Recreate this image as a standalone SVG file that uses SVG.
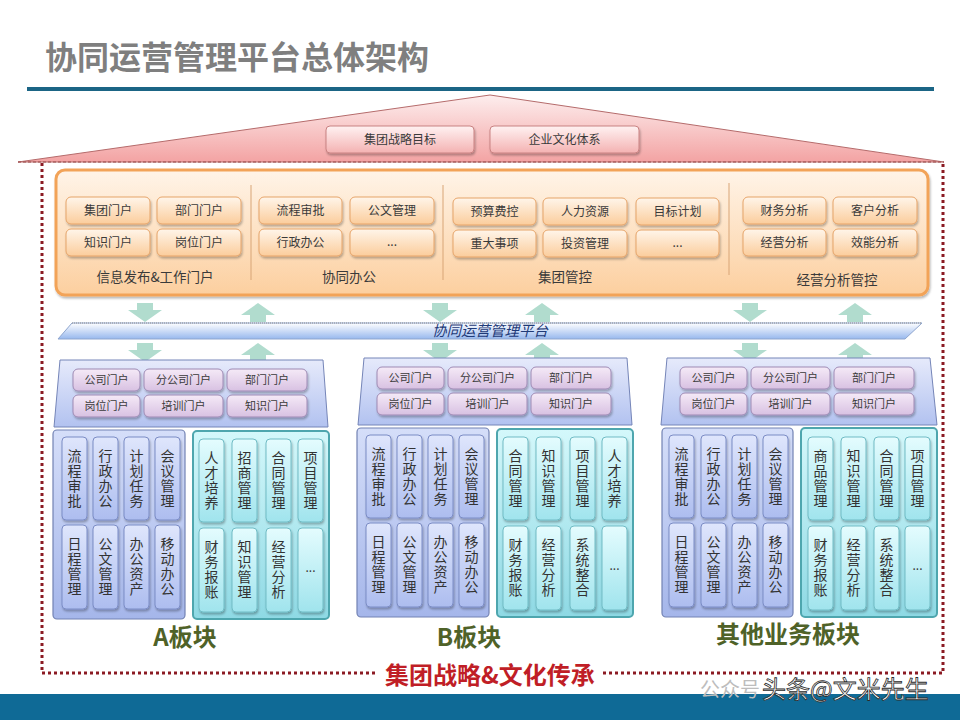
<svg xmlns="http://www.w3.org/2000/svg" width="960" height="720" viewBox="0 0 960 720">
<defs>
<linearGradient id="gRoof" x1="0" y1="0" x2="0" y2="1"><stop offset="0" stop-color="#fdeeee"/><stop offset="1" stop-color="#f3a3a3"/></linearGradient>
<linearGradient id="gPink" x1="0" y1="0" x2="0" y2="1"><stop offset="0" stop-color="#fff2f2"/><stop offset="1" stop-color="#f4b2b2"/></linearGradient>
<linearGradient id="gOrBox" x1="0" y1="0" x2="0" y2="1"><stop offset="0" stop-color="#fff4e8"/><stop offset="1" stop-color="#fccf9f"/></linearGradient>
<linearGradient id="gOrBtn" x1="0" y1="0" x2="0" y2="1"><stop offset="0" stop-color="#fff5ea"/><stop offset="1" stop-color="#fbcd9c"/></linearGradient>
<linearGradient id="gPlat" x1="0" y1="0" x2="0" y2="1"><stop offset="0" stop-color="#ffffff"/><stop offset="1" stop-color="#97b8ee"/></linearGradient>
<linearGradient id="gTrap" x1="0" y1="0" x2="0" y2="1"><stop offset="0" stop-color="#e6eafb"/><stop offset="1" stop-color="#b2c2f0"/></linearGradient>
<linearGradient id="gLav" x1="0" y1="0" x2="0" y2="1"><stop offset="0" stop-color="#f5eaf7"/><stop offset="1" stop-color="#d8c1e2"/></linearGradient>
<linearGradient id="gBP" x1="0" y1="0" x2="0" y2="1"><stop offset="0" stop-color="#d5def9"/><stop offset="1" stop-color="#a5b6ea"/></linearGradient>
<linearGradient id="gBT" x1="0" y1="0" x2="0" y2="1"><stop offset="0" stop-color="#dfe6fc"/><stop offset="1" stop-color="#adbdef"/></linearGradient>
<linearGradient id="gTP" x1="0" y1="0" x2="0" y2="1"><stop offset="0" stop-color="#d4f8fb"/><stop offset="1" stop-color="#8ed9e4"/></linearGradient>
<linearGradient id="gTT" x1="0" y1="0" x2="0" y2="1"><stop offset="0" stop-color="#e4fcfe"/><stop offset="1" stop-color="#a0e4ed"/></linearGradient>
<filter id="sh" x="-20%" y="-20%" width="140%" height="150%"><feDropShadow dx="1" dy="2" stdDeviation="1.2" flood-color="#000" flood-opacity="0.28"/></filter>
<style>
text{font-family:"Noto Sans CJK SC","Noto Sans",sans-serif;}
.title{font-size:32px;font-weight:bold;fill:#7f7f7f;}
.pb{fill:url(#gPink);stroke:#c98282;stroke-width:1;filter:url(#sh);}
.ob{fill:url(#gOrBtn);stroke:#e6a469;stroke-width:1;filter:url(#sh);}
.t12{font-size:12px;fill:#3a3a3a;text-anchor:middle;}
.t11{font-size:11px;fill:#3a3a3a;text-anchor:middle;}
.lab{font-size:13.5px;fill:#3a3a3a;text-anchor:middle;}
.trap{fill:url(#gTrap);stroke:#7585b8;stroke-width:1;}
.lb{fill:url(#gLav);stroke:#9e8ab4;stroke-width:1;filter:url(#sh);}
.bp{fill:url(#gBP);stroke:#7282b3;stroke-width:1.2;}
.bt{fill:url(#gBT);stroke:#7b8cc5;stroke-width:1;filter:url(#sh);}
.tp{fill:url(#gTP);stroke:#4ea6ae;stroke-width:2;}
.tt{fill:url(#gTT);stroke:#70bcc5;stroke-width:1;filter:url(#sh);}
.vt{font-size:14px;fill:#333;text-anchor:middle;writing-mode:vertical-rl;letter-spacing:1px;}
.blk{font-size:24px;font-weight:bold;fill:#4f6228;text-anchor:middle;}
.arr{fill:#a9d9c9;opacity:0.9;}
</style>
</defs>
<rect width="960" height="720" fill="#ffffff"/>
<text class="title" x="45" y="69">协同运营管理平台总体架构</text>
<rect x="27" y="87" width="907" height="4" fill="#1b6585"/>

<!-- roof -->
<g id="roof">
<polygon points="18,162 490,95 944,162" fill="url(#gRoof)" stroke="#b56b6b" stroke-width="1"/>
<line x1="18" y1="162" x2="944" y2="162" stroke="#9a4a4a" stroke-width="1" stroke-dasharray="3 2"/>
</g>
<g id="n-strategy"><rect class="pb" x="326" y="126" width="148" height="27" rx="4"/><text class="t12" x="400" y="144">集团战略目标</text></g>
<g id="n-culture"><rect class="pb" x="490" y="126" width="149" height="27" rx="4"/><text class="t12" x="564.5" y="144">企业文化体系</text></g>

<!-- dotted frame -->
<g id="frame" fill="none" stroke="#8b1a23" stroke-width="3" stroke-dasharray="3 3">
<path d="M42,163 V673 H378"/>
<path d="M603,673 H943 V163"/>
</g>
<text x="490" y="684" font-size="24" font-weight="bold" fill="#c01e26" text-anchor="middle">集团战略&amp;文化传承</text>

<!-- orange application layer -->
<g id="app-layer">
<rect x="56" y="170" width="872" height="125" rx="9" fill="url(#gOrBox)" stroke="#f2a358" stroke-width="3" filter="url(#sh)"/>
<g stroke="#d8a577" stroke-width="1"><line x1="251" y1="185" x2="251" y2="280"/><line x1="443" y1="185" x2="443" y2="280"/><line x1="729" y1="183" x2="729" y2="275"/></g>
</g>
<g id="n-jtmh"><rect class="ob" x="66" y="197" width="84" height="27" rx="5"/><text class="t12" x="108" y="215">集团门户</text></g>
<g id="n-bmmh"><rect class="ob" x="157" y="197" width="84" height="27" rx="5"/><text class="t12" x="199" y="215">部门门户</text></g>
<g id="n-zsmh"><rect class="ob" x="66" y="229" width="84" height="27" rx="5"/><text class="t12" x="108" y="247">知识门户</text></g>
<g id="n-gwmh"><rect class="ob" x="157" y="229" width="84" height="27" rx="5"/><text class="t12" x="199" y="247">岗位门户</text></g>
<text class="lab" x="155" y="282">信息发布&amp;工作门户</text>
<g id="n-lcsp"><rect class="ob" x="259" y="197" width="83" height="27" rx="5"/><text class="t12" x="300.5" y="215">流程审批</text></g>
<g id="n-gwgl"><rect class="ob" x="350" y="197" width="84" height="27" rx="5"/><text class="t12" x="392" y="215">公文管理</text></g>
<g id="n-xzbg"><rect class="ob" x="259" y="229" width="83" height="27" rx="5"/><text class="t12" x="300.5" y="247">行政办公</text></g>
<g id="n-more1"><rect class="ob" x="350" y="229" width="84" height="27" rx="5"/><text class="t12" x="392" y="246">...</text></g>
<text class="lab" x="349" y="282">协同办公</text>
<g id="n-ysfk"><rect class="ob" x="453" y="198" width="83" height="27" rx="5"/><text class="t12" x="494.5" y="216">预算费控</text></g>
<g id="n-rlzy"><rect class="ob" x="543" y="198" width="84" height="27" rx="5"/><text class="t12" x="585" y="216">人力资源</text></g>
<g id="n-mbjh"><rect class="ob" x="636" y="198" width="83" height="27" rx="5"/><text class="t12" x="677.5" y="216">目标计划</text></g>
<g id="n-zdsx"><rect class="ob" x="453" y="230" width="83" height="27" rx="5"/><text class="t12" x="494.5" y="248">重大事项</text></g>
<g id="n-tzgl"><rect class="ob" x="543" y="230" width="84" height="27" rx="5"/><text class="t12" x="585" y="248">投资管理</text></g>
<g id="n-more2"><rect class="ob" x="636" y="230" width="83" height="27" rx="5"/><text class="t12" x="677.5" y="247">...</text></g>
<text class="lab" x="565" y="282">集团管控</text>
<g id="n-cwfx"><rect class="ob" x="743" y="197" width="83" height="27" rx="5"/><text class="t12" x="784.5" y="215">财务分析</text></g>
<g id="n-khfx"><rect class="ob" x="833" y="197" width="84" height="27" rx="5"/><text class="t12" x="875" y="215">客户分析</text></g>
<g id="n-jyfx"><rect class="ob" x="743" y="229" width="83" height="27" rx="5"/><text class="t12" x="784.5" y="247">经营分析</text></g>
<g id="n-xnfx"><rect class="ob" x="833" y="229" width="84" height="27" rx="5"/><text class="t12" x="875" y="247">效能分析</text></g>
<text class="lab" x="837" y="285">经营分析管控</text>

<!-- platform band -->
<g id="platform">
<polygon points="72,323 922,323 905,339 58,339" fill="url(#gPlat)" stroke="#8fa6cf" stroke-width="1"/>
<line x1="72" y1="323" x2="922" y2="323" stroke="#8d8d8d" stroke-width="1" stroke-dasharray="1 1"/>
<text x="490" y="336" font-size="14.5" font-style="italic" fill="#1f3a78" text-anchor="middle">协同运营管理平台</text>
</g>

<!-- connectors -->
<g id="connectors" class="arr">
<polygon points="137,303 153,303 153,310 162,310 145,322 128,310 137,310"/>
<polygon points="432,303 448,303 448,310 457,310 440,322 423,310 432,310"/>
<polygon points="742,303 758,303 758,310 767,310 750,322 733,310 742,310"/>
<polygon points="258,303 275,315 266,315 266,322 250,322 250,315 241,315"/>
<polygon points="542,303 559,315 550,315 550,322 534,322 534,315 525,315"/>
<polygon points="855,303 872,315 863,315 863,322 847,322 847,315 838,315"/>
<polygon points="137,343 153,343 153,350 162,350 145,362 128,350 137,350"/>
<polygon points="432,343 448,343 448,350 457,350 440,362 423,350 432,350"/>
<polygon points="742,343 758,343 758,350 767,350 750,362 733,350 742,350"/>
<polygon points="258,343 275,355 266,355 266,362 250,362 250,355 241,355"/>
<polygon points="542,343 559,355 550,355 550,362 534,362 534,355 525,355"/>
<polygon points="855,343 872,355 863,355 863,362 847,362 847,355 838,355"/>
</g>

<!-- Block A -->
<g id="block-a">
<polygon class="trap" points="60,360 323,360 328,427 54,427"/>
<g id="a-p1"><rect class="lb" x="73" y="369" width="67" height="22" rx="5"/><text class="t11" x="106.5" y="384">公司门户</text></g>
<g id="a-p2"><rect class="lb" x="144" y="369" width="79" height="22" rx="5"/><text class="t11" x="183.5" y="384">分公司门户</text></g>
<g id="a-p3"><rect class="lb" x="227" y="369" width="80" height="22" rx="5"/><text class="t11" x="267" y="384">部门门户</text></g>
<g id="a-p4"><rect class="lb" x="73" y="395" width="67" height="22" rx="5"/><text class="t11" x="106.5" y="410">岗位门户</text></g>
<g id="a-p5"><rect class="lb" x="144" y="395" width="79" height="22" rx="5"/><text class="t11" x="183.5" y="410">培训门户</text></g>
<g id="a-p6"><rect class="lb" x="227" y="395" width="80" height="22" rx="5"/><text class="t11" x="267" y="410">知识门户</text></g>
<rect class="bp" x="53" y="430" width="132" height="189" rx="4"/>
<rect class="tp" x="193" y="431" width="136" height="188" rx="4"/>
<g id="a-l1"><rect class="bt" x="62" y="437" width="25" height="83" rx="4"/><text class="vt" x="74.5" y="478.5">流程审批</text></g>
<g id="a-l2"><rect class="bt" x="93" y="437" width="25" height="83" rx="4"/><text class="vt" x="105.5" y="478.5">行政办公</text></g>
<g id="a-l3"><rect class="bt" x="124" y="437" width="25" height="83" rx="4"/><text class="vt" x="136.5" y="478.5">计划任务</text></g>
<g id="a-l4"><rect class="bt" x="155" y="437" width="25" height="83" rx="4"/><text class="vt" x="167.5" y="478.5">会议管理</text></g>
<g id="a-l5"><rect class="bt" x="62" y="525" width="25" height="84" rx="4"/><text class="vt" x="74.5" y="567">日程管理</text></g>
<g id="a-l6"><rect class="bt" x="93" y="525" width="25" height="84" rx="4"/><text class="vt" x="105.5" y="567">公文管理</text></g>
<g id="a-l7"><rect class="bt" x="124" y="525" width="25" height="84" rx="4"/><text class="vt" x="136.5" y="567">办公资产</text></g>
<g id="a-l8"><rect class="bt" x="155" y="525" width="25" height="84" rx="4"/><text class="vt" x="167.5" y="567">移动办公</text></g>
<g id="a-r1"><rect class="tt" x="199" y="439" width="25" height="83" rx="4"/><text class="vt" x="211.5" y="480.5">人才培养</text></g>
<g id="a-r2"><rect class="tt" x="232" y="439" width="25" height="83" rx="4"/><text class="vt" x="244.5" y="480.5">招商管理</text></g>
<g id="a-r3"><rect class="tt" x="266" y="439" width="25" height="83" rx="4"/><text class="vt" x="278.5" y="480.5">合同管理</text></g>
<g id="a-r4"><rect class="tt" x="298" y="439" width="25" height="83" rx="4"/><text class="vt" x="310.5" y="480.5">项目管理</text></g>
<g id="a-r5"><rect class="tt" x="199" y="528" width="25" height="84" rx="4"/><text class="vt" x="211.5" y="570">财务报账</text></g>
<g id="a-r6"><rect class="tt" x="232" y="528" width="25" height="84" rx="4"/><text class="vt" x="244.5" y="570">知识管理</text></g>
<g id="a-r7"><rect class="tt" x="266" y="528" width="25" height="84" rx="4"/><text class="vt" x="278.5" y="570">经营分析</text></g>
<g id="a-r8"><rect class="tt" x="298" y="528" width="25" height="84" rx="4"/><text class="t12" x="310.5" y="572">...</text></g>
</g>

<!-- Block B -->
<g id="block-b" transform="translate(304,-2)">
<polygon class="trap" points="60,360 323,360 328,427 54,427"/>
<g id="b-p1"><rect class="lb" x="73" y="369" width="67" height="22" rx="5"/><text class="t11" x="106.5" y="384">公司门户</text></g>
<g id="b-p2"><rect class="lb" x="144" y="369" width="79" height="22" rx="5"/><text class="t11" x="183.5" y="384">分公司门户</text></g>
<g id="b-p3"><rect class="lb" x="227" y="369" width="80" height="22" rx="5"/><text class="t11" x="267" y="384">部门门户</text></g>
<g id="b-p4"><rect class="lb" x="73" y="395" width="67" height="22" rx="5"/><text class="t11" x="106.5" y="410">岗位门户</text></g>
<g id="b-p5"><rect class="lb" x="144" y="395" width="79" height="22" rx="5"/><text class="t11" x="183.5" y="410">培训门户</text></g>
<g id="b-p6"><rect class="lb" x="227" y="395" width="80" height="22" rx="5"/><text class="t11" x="267" y="410">知识门户</text></g>
<rect class="bp" x="53" y="430" width="132" height="189" rx="4"/>
<rect class="tp" x="193" y="431" width="136" height="188" rx="4"/>
<g id="b-l1"><rect class="bt" x="62" y="437" width="25" height="83" rx="4"/><text class="vt" x="74.5" y="478.5">流程审批</text></g>
<g id="b-l2"><rect class="bt" x="93" y="437" width="25" height="83" rx="4"/><text class="vt" x="105.5" y="478.5">行政办公</text></g>
<g id="b-l3"><rect class="bt" x="124" y="437" width="25" height="83" rx="4"/><text class="vt" x="136.5" y="478.5">计划任务</text></g>
<g id="b-l4"><rect class="bt" x="155" y="437" width="25" height="83" rx="4"/><text class="vt" x="167.5" y="478.5">会议管理</text></g>
<g id="b-l5"><rect class="bt" x="62" y="525" width="25" height="84" rx="4"/><text class="vt" x="74.5" y="567">日程管理</text></g>
<g id="b-l6"><rect class="bt" x="93" y="525" width="25" height="84" rx="4"/><text class="vt" x="105.5" y="567">公文管理</text></g>
<g id="b-l7"><rect class="bt" x="124" y="525" width="25" height="84" rx="4"/><text class="vt" x="136.5" y="567">办公资产</text></g>
<g id="b-l8"><rect class="bt" x="155" y="525" width="25" height="84" rx="4"/><text class="vt" x="167.5" y="567">移动办公</text></g>
<g id="b-r1"><rect class="tt" x="199" y="439" width="25" height="83" rx="4"/><text class="vt" x="211.5" y="480.5">合同管理</text></g>
<g id="b-r2"><rect class="tt" x="232" y="439" width="25" height="83" rx="4"/><text class="vt" x="244.5" y="480.5">知识管理</text></g>
<g id="b-r3"><rect class="tt" x="266" y="439" width="25" height="83" rx="4"/><text class="vt" x="278.5" y="480.5">项目管理</text></g>
<g id="b-r4"><rect class="tt" x="298" y="439" width="25" height="83" rx="4"/><text class="vt" x="310.5" y="480.5">人才培养</text></g>
<g id="b-r5"><rect class="tt" x="199" y="528" width="25" height="84" rx="4"/><text class="vt" x="211.5" y="570">财务报账</text></g>
<g id="b-r6"><rect class="tt" x="232" y="528" width="25" height="84" rx="4"/><text class="vt" x="244.5" y="570">经营分析</text></g>
<g id="b-r7"><rect class="tt" x="266" y="528" width="25" height="84" rx="4"/><text class="vt" x="278.5" y="570">系统整合</text></g>
<g id="b-r8"><rect class="tt" x="298" y="528" width="25" height="84" rx="4"/><text class="t12" x="310.5" y="572">...</text></g>
</g>

<!-- Block C -->
<g id="block-c" transform="translate(607,-2)">
<polygon class="trap" points="60,360 323,360 330,427 54,427"/>
<g id="c-p1"><rect class="lb" x="73" y="369" width="67" height="22" rx="5"/><text class="t11" x="106.5" y="384">公司门户</text></g>
<g id="c-p2"><rect class="lb" x="144" y="369" width="79" height="22" rx="5"/><text class="t11" x="183.5" y="384">分公司门户</text></g>
<g id="c-p3"><rect class="lb" x="227" y="369" width="80" height="22" rx="5"/><text class="t11" x="267" y="384">部门门户</text></g>
<g id="c-p4"><rect class="lb" x="73" y="395" width="67" height="22" rx="5"/><text class="t11" x="106.5" y="410">岗位门户</text></g>
<g id="c-p5"><rect class="lb" x="144" y="395" width="79" height="22" rx="5"/><text class="t11" x="183.5" y="410">培训门户</text></g>
<g id="c-p6"><rect class="lb" x="227" y="395" width="80" height="22" rx="5"/><text class="t11" x="267" y="410">知识门户</text></g>
<rect class="bp" x="55" y="430" width="131" height="189" rx="4"/>
<rect class="tp" x="194" y="430" width="136" height="189" rx="4"/>
<g id="c-l1"><rect class="bt" x="62" y="437" width="25" height="83" rx="4"/><text class="vt" x="74.5" y="478.5">流程审批</text></g>
<g id="c-l2"><rect class="bt" x="94" y="437" width="25" height="83" rx="4"/><text class="vt" x="106.5" y="478.5">行政办公</text></g>
<g id="c-l3"><rect class="bt" x="125" y="437" width="25" height="83" rx="4"/><text class="vt" x="137.5" y="478.5">计划任务</text></g>
<g id="c-l4"><rect class="bt" x="156" y="437" width="25" height="83" rx="4"/><text class="vt" x="168.5" y="478.5">会议管理</text></g>
<g id="c-l5"><rect class="bt" x="62" y="525" width="25" height="84" rx="4"/><text class="vt" x="74.5" y="567">日程管理</text></g>
<g id="c-l6"><rect class="bt" x="94" y="525" width="25" height="84" rx="4"/><text class="vt" x="106.5" y="567">公文管理</text></g>
<g id="c-l7"><rect class="bt" x="125" y="525" width="25" height="84" rx="4"/><text class="vt" x="137.5" y="567">办公资产</text></g>
<g id="c-l8"><rect class="bt" x="156" y="525" width="25" height="84" rx="4"/><text class="vt" x="168.5" y="567">移动办公</text></g>
<g id="c-r1"><rect class="tt" x="201" y="439" width="25" height="83" rx="4"/><text class="vt" x="213.5" y="480.5">商品管理</text></g>
<g id="c-r2"><rect class="tt" x="234" y="439" width="25" height="83" rx="4"/><text class="vt" x="246.5" y="480.5">知识管理</text></g>
<g id="c-r3"><rect class="tt" x="267" y="439" width="25" height="83" rx="4"/><text class="vt" x="279.5" y="480.5">合同管理</text></g>
<g id="c-r4"><rect class="tt" x="298" y="439" width="25" height="83" rx="4"/><text class="vt" x="310.5" y="480.5">项目管理</text></g>
<g id="c-r5"><rect class="tt" x="201" y="528" width="25" height="84" rx="4"/><text class="vt" x="213.5" y="570">财务报账</text></g>
<g id="c-r6"><rect class="tt" x="234" y="528" width="25" height="84" rx="4"/><text class="vt" x="246.5" y="570">经营分析</text></g>
<g id="c-r7"><rect class="tt" x="267" y="528" width="25" height="84" rx="4"/><text class="vt" x="279.5" y="570">系统整合</text></g>
<g id="c-r8"><rect class="tt" x="298" y="528" width="25" height="84" rx="4"/><text class="t12" x="310.5" y="572">...</text></g>
</g>

<text class="blk" x="185" y="646">A板块</text>
<text class="blk" x="469" y="646">B板块</text>
<text class="blk" x="788" y="643">其他业务板块</text>

<!-- bottom bar -->
<rect x="0" y="694" width="960" height="26" fill="#0f6a96"/>
<text x="700" y="697" font-size="20" fill="#bdbdbd">公众号</text>
<text x="762" y="698" font-size="24" fill="#ffffff" stroke="#2a2a2a" stroke-width="0.8">头条@文米先生</text>
</svg>
